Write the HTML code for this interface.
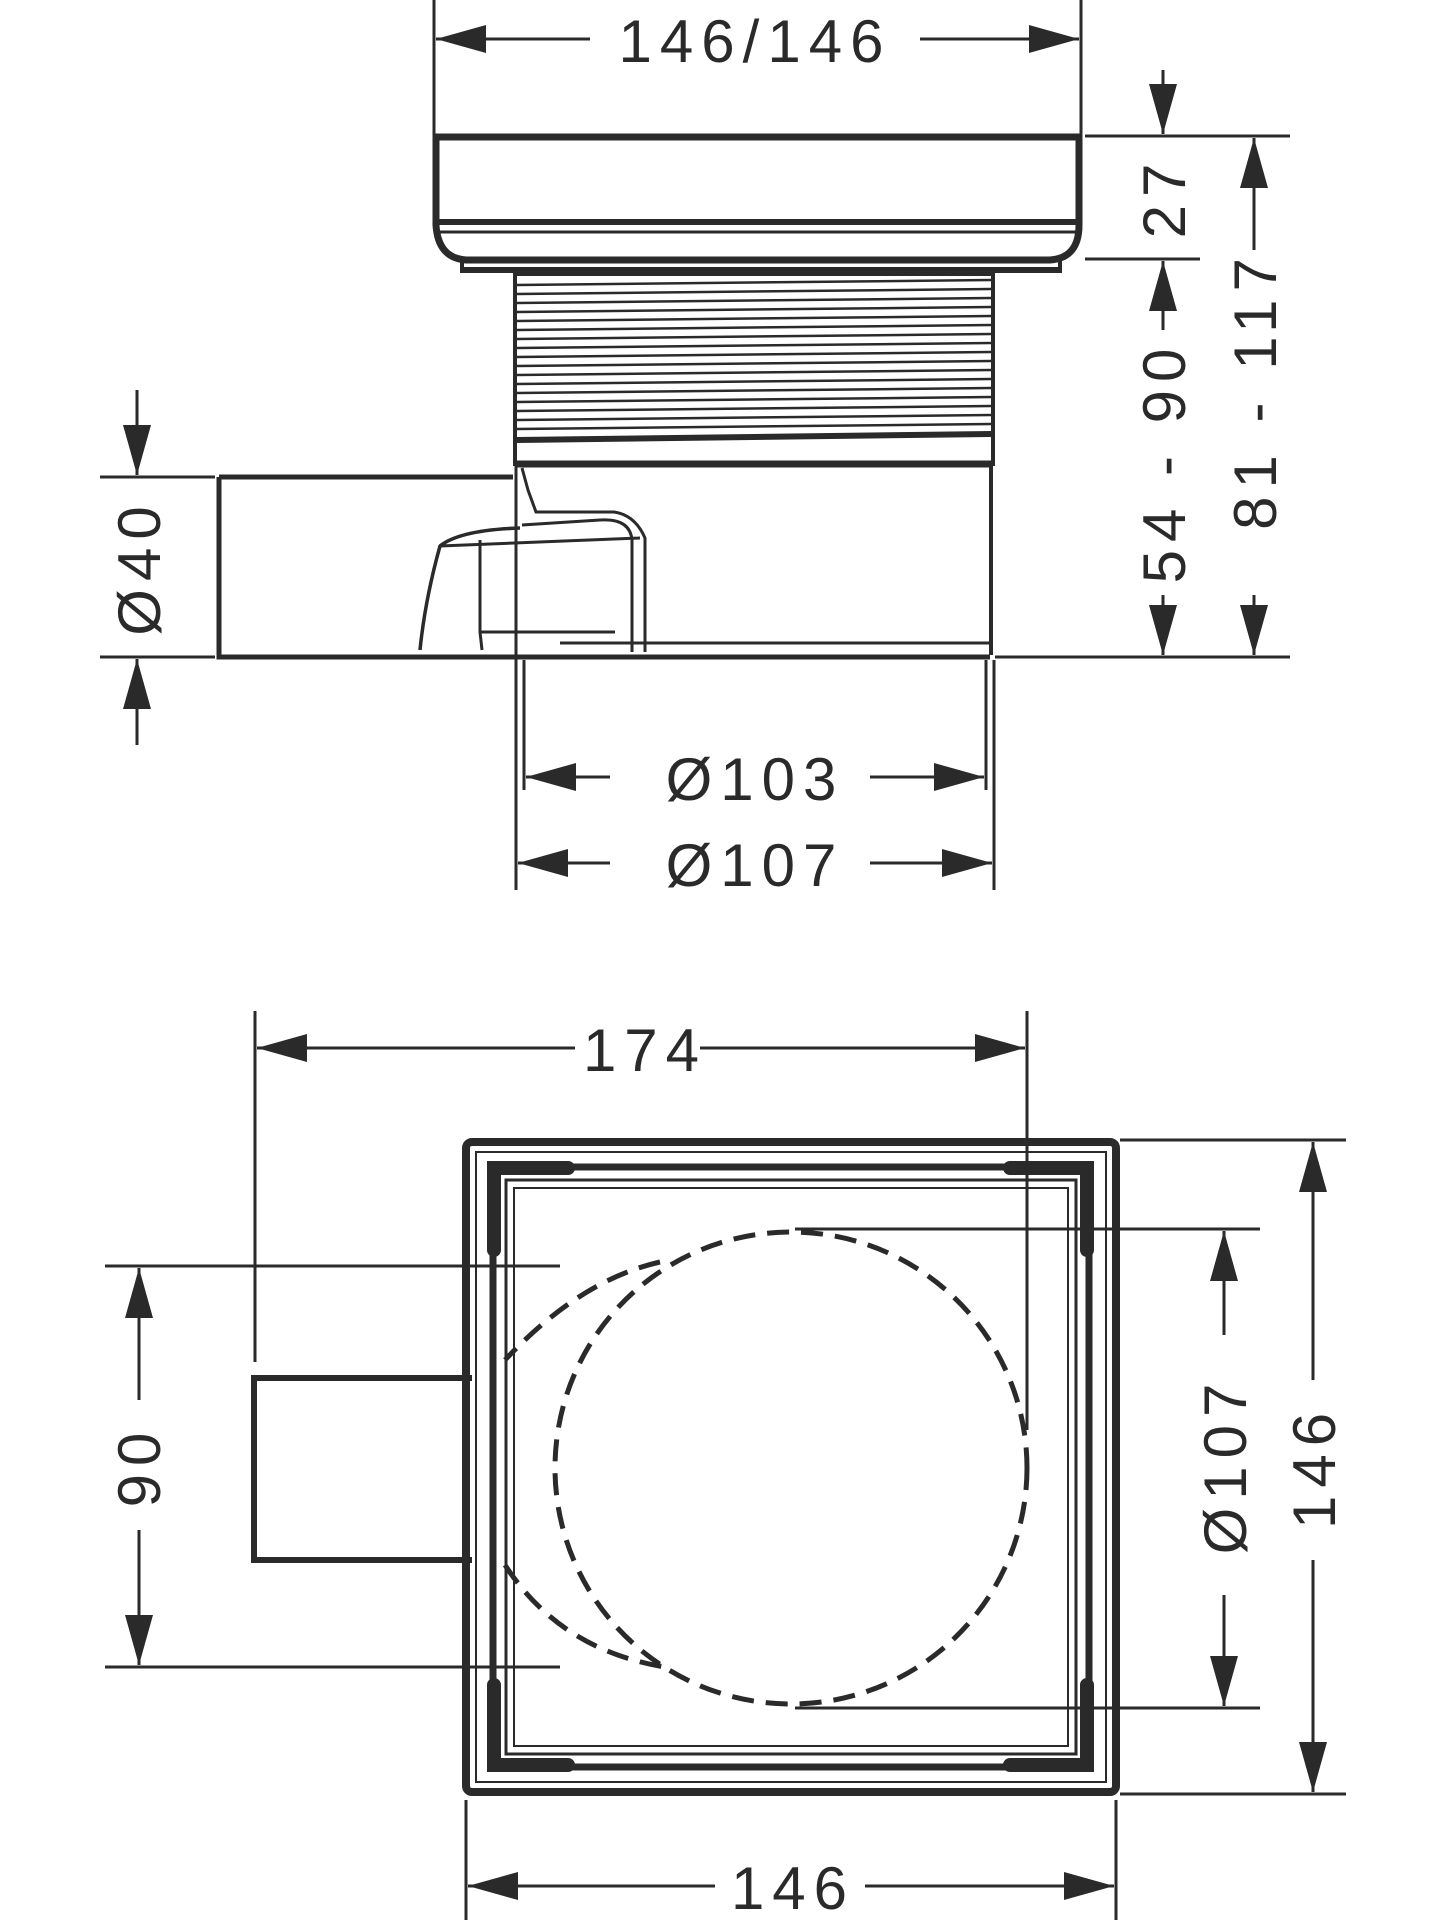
<!DOCTYPE html>
<html><head><meta charset="utf-8"><style>
html,body{margin:0;padding:0;background:#fff;}
svg{display:block;}
text{font-family:"Liberation Sans",sans-serif;font-size:60px;fill:#2a2a2a;letter-spacing:8px;}
</style></head><body>
<svg width="1440" height="1920" viewBox="0 0 1440 1920" xmlns="http://www.w3.org/2000/svg">
<defs>
<marker id="a" viewBox="0 0 50 28" refX="50" refY="14" markerWidth="50" markerHeight="28" markerUnits="userSpaceOnUse" orient="auto-start-reverse">
<path d="M0,0 L50,14 L0,28 Z" fill="#2a2a2a"/></marker>
</defs>
<g stroke="#2a2a2a" fill="none" stroke-width="3">
<!-- TOP VIEW dims -->
<line x1="434" y1="0" x2="434" y2="136"/>
<line x1="1081" y1="0" x2="1081" y2="136"/>
<line x1="590" y1="39" x2="436" y2="39" marker-end="url(#a)"/>
<line x1="920" y1="39" x2="1079" y2="39" marker-end="url(#a)"/>
<!-- lid -->
<path d="M436,137 H1079 V225 Q1079,258 1050,260 H466 Q438,258 436,225 Z" stroke-width="7"/>
<line x1="438" y1="222" x2="1077" y2="222" stroke-width="6"/>
<line x1="438" y1="232" x2="1077" y2="232"/>
<path d="M462,260 V271 H1060 V260" stroke-width="4"/>
<line x1="462" y1="270" x2="1060" y2="270" stroke-width="6"/>
<!-- thread -->
<rect x="515" y="274" width="478" height="190" stroke-width="4"/>
<g stroke-width="2.5">
<line x1="517" y1="285" x2="991" y2="280"/><line x1="517" y1="294" x2="991" y2="289"/>
<line x1="517" y1="303" x2="991" y2="298"/><line x1="517" y1="312" x2="991" y2="307"/>
<line x1="517" y1="321" x2="991" y2="316"/><line x1="517" y1="330" x2="991" y2="325"/>
<line x1="517" y1="339" x2="991" y2="334"/><line x1="517" y1="348" x2="991" y2="343"/>
<line x1="517" y1="357" x2="991" y2="352"/><line x1="517" y1="366" x2="991" y2="361"/>
<line x1="517" y1="375" x2="991" y2="370"/><line x1="517" y1="384" x2="991" y2="379"/>
<line x1="517" y1="393" x2="991" y2="388"/><line x1="517" y1="402" x2="991" y2="397"/>
<line x1="517" y1="411" x2="991" y2="406"/><line x1="517" y1="420" x2="991" y2="415"/>
<line x1="517" y1="429" x2="991" y2="424"/>
</g>
<line x1="517" y1="440" x2="991" y2="434" stroke-width="6"/>
<line x1="517" y1="464" x2="991" y2="464" stroke-width="7"/>
<!-- body -->
<line x1="991" y1="466" x2="991" y2="655" stroke-width="4"/>
<path d="M219,477 H513 M219,477 V657 H990" stroke-width="5"/>
<line x1="560" y1="643" x2="990" y2="643" stroke-width="3"/>
<line x1="480" y1="632" x2="615" y2="632" stroke-width="3"/>
<!-- cutaway -->
<path d="M522,468 L528,490 L536,512 L614,512 Q635,515 645,538 V652" stroke-width="3"/>
<path d="M522,525 L600,520 Q630,518 632,540 V652" stroke-width="3"/>
<path d="M420,650 Q425,600 440,546 Q460,530 520,528" stroke-width="3.5"/>
<line x1="440" y1="546" x2="640" y2="538" stroke-width="3"/>
<path d="M480,540 V632 L482,650" stroke-width="3"/>
<!-- vertical ext lines -->
<line x1="516" y1="466" x2="516" y2="890"/>
<line x1="524" y1="660" x2="524" y2="790"/>
<line x1="986" y1="660" x2="986" y2="790"/>
<line x1="994" y1="660" x2="994" y2="890"/>
<!-- diameters -->
<line x1="610" y1="777" x2="526" y2="777" marker-end="url(#a)"/>
<line x1="870" y1="777" x2="984" y2="777" marker-end="url(#a)"/>
<line x1="610" y1="863" x2="518" y2="863" marker-end="url(#a)"/>
<line x1="870" y1="863" x2="992" y2="863" marker-end="url(#a)"/>
<!-- Ø40 -->
<line x1="100" y1="477" x2="215" y2="477"/>
<line x1="100" y1="657" x2="215" y2="657"/>
<line x1="137" y1="390" x2="137" y2="475" marker-end="url(#a)"/>
<line x1="137" y1="745" x2="137" y2="659" marker-end="url(#a)"/>
<!-- right dims -->
<line x1="1085" y1="136" x2="1200" y2="136"/>
<line x1="1085" y1="259" x2="1200" y2="259"/>
<line x1="995" y1="657" x2="1290" y2="657"/>
<line x1="1200" y1="136" x2="1290" y2="136"/>
<line x1="1163" y1="70" x2="1163" y2="134" marker-end="url(#a)"/>
<line x1="1163" y1="330" x2="1163" y2="261" marker-end="url(#a)"/>
<line x1="1163" y1="595" x2="1163" y2="655" marker-end="url(#a)"/>
<line x1="1254" y1="185" x2="1254" y2="138" marker-end="url(#a)"/>
<line x1="1254" y1="185" x2="1254" y2="250"/>
<line x1="1254" y1="595" x2="1254" y2="655" marker-end="url(#a)"/>

<!-- BOTTOM VIEW -->
<line x1="255" y1="1011" x2="255" y2="1362"/>
<line x1="1027" y1="1011" x2="1027" y2="1430"/>
<line x1="575" y1="1048" x2="257" y2="1048" marker-end="url(#a)"/>
<line x1="700" y1="1048" x2="1025" y2="1048" marker-end="url(#a)"/>
<rect x="466" y="1142" width="650" height="650" rx="6" stroke-width="8"/>
<rect x="476" y="1152" width="630" height="630" stroke-width="2"/>
<rect x="493" y="1167" width="596" height="600" stroke-width="7"/>
<rect x="506" y="1180" width="570" height="574" stroke-width="3"/>
<rect x="514" y="1188" width="554" height="558" stroke-width="2"/>
<g stroke-width="14" stroke-linecap="round">
<path d="M494,1250 V1168 H568"/><path d="M1010,1168 H1087 V1250"/>
<path d="M494,1685 V1765 H568"/><path d="M1010,1765 H1087 V1685"/>
</g>
<!-- pipe -->
<path d="M472,1378 H254 V1560 H472" stroke-width="6"/>
<!-- dashed circles -->
<circle cx="791" cy="1468" r="236" stroke-width="5" stroke-dasharray="22,12"/>
<path d="M660,1262 Q580,1280 505,1360" stroke-width="5" stroke-dasharray="22,12"/>
<path d="M505,1565 Q560,1650 665,1667" stroke-width="5" stroke-dasharray="22,12"/>
<!-- 90 -->
<line x1="105" y1="1266" x2="560" y2="1266"/>
<line x1="105" y1="1667" x2="560" y2="1667"/>
<line x1="139" y1="1400" x2="139" y2="1268" marker-end="url(#a)"/>
<line x1="139" y1="1530" x2="139" y2="1665" marker-end="url(#a)"/>
<!-- Ø107 -->
<line x1="795" y1="1229" x2="1260" y2="1229"/>
<line x1="795" y1="1708" x2="1260" y2="1708"/>
<line x1="1224" y1="1335" x2="1224" y2="1231" marker-end="url(#a)"/>
<line x1="1224" y1="1595" x2="1224" y2="1706" marker-end="url(#a)"/>
<!-- 146 right -->
<line x1="1120" y1="1140" x2="1346" y2="1140"/>
<line x1="1120" y1="1794" x2="1346" y2="1794"/>
<line x1="1313" y1="1380" x2="1313" y2="1142" marker-end="url(#a)"/>
<line x1="1313" y1="1560" x2="1313" y2="1792" marker-end="url(#a)"/>
<!-- 146 bottom -->
<line x1="466" y1="1800" x2="466" y2="1920"/>
<line x1="1116" y1="1800" x2="1116" y2="1920"/>
<line x1="715" y1="1886" x2="468" y2="1886" marker-end="url(#a)"/>
<line x1="865" y1="1886" x2="1114" y2="1886" marker-end="url(#a)"/>
</g>
<g>
<text x="755" y="62" text-anchor="middle">146/146</text>
<text x="755" y="800" text-anchor="middle">Ø103</text>
<text x="755" y="886" text-anchor="middle">Ø107</text>
<text x="645" y="1071" text-anchor="middle">174</text>
<text x="793" y="1909" text-anchor="middle">146</text>
<text transform="translate(1185,197) rotate(-90)" text-anchor="middle">27</text>
<text transform="translate(1185,462) rotate(-90)" text-anchor="middle">54 - 90</text>
<text transform="translate(1276,390) rotate(-90)" text-anchor="middle">81 - 117</text>
<text transform="translate(160,567) rotate(-90)" text-anchor="middle">Ø40</text>
<text transform="translate(160,1466) rotate(-90)" text-anchor="middle">90</text>
<text transform="translate(1246,1465) rotate(-90)" text-anchor="middle">Ø107</text>
<text transform="translate(1335,1467) rotate(-90)" text-anchor="middle">146</text>
</g>
</svg>
</body></html>
